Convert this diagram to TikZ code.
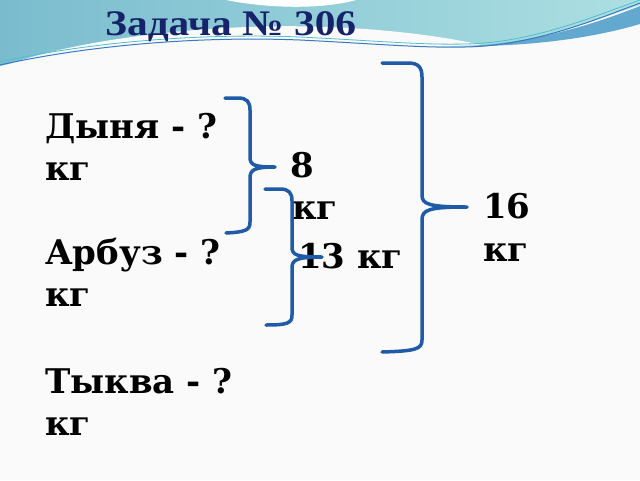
\documentclass[tikz,border=0pt]{standalone}
\usepackage{fontspec}
\newfontfamily\bodyfont{DejaVu Serif}
\newfontfamily\titlefont{Liberation Serif}
\definecolor{navy}{HTML}{16226A}
\definecolor{bracecol}{HTML}{1F5BA6}
\definecolor{tealL}{HTML}{7ABCCE}
\definecolor{tealR}{HTML}{ACDFE2}
\definecolor{bgcol}{HTML}{FAFAFA}
\definecolor{lineblue}{HTML}{3A78C4}
\definecolor{lineteal}{HTML}{4CC0CC}
\definecolor{stripe}{HTML}{62A8CF}
\begin{document}
\begin{tikzpicture}[x=1pt,y=-1pt,
  txt/.style={anchor=base west,inner sep=0pt,font=\bodyfont\bfseries\fontsize{34}{40}\selectfont,text=black},
  brace/.style={draw=bracecol,line width=3.5pt,line cap=round,line join=round}]
\useasboundingbox (0,0) rectangle (640,480);
\fill[bgcol] (0,0) rectangle (640,480);
% top band
\shade[left color=tealL,right color=tealR]
  (0,0) -- (640,0) -- (640,5) .. controls (560,32) and (520,47) .. (465,47)
  .. controls (380,46) and (300,36) .. (200,40) .. controls (110,44) and (40,56) .. (0,66) -- cycle;
% white sliver at top
\fill[white] (226,0) .. controls (265,8) and (320,10) .. (356,0) -- cycle;
% white swoosh
\fill[bgcol] (10,64) .. controls (70,42) and (200,22) .. (330,27)
  .. controls (400,30) and (450,38) .. (482,45)
  .. controls (440,47) and (380,46) .. (300,40) .. controls (200,36) and (80,50) .. (10,64) -- cycle;
% right darker stripe
\fill[stripe] (470,46) .. controls (540,42) and (600,22) .. (640,6) -- (640,24)
  .. controls (600,36) and (540,46) .. (470,46) -- cycle;
% thin lines
\draw[lineblue,line width=1pt] (0,65) .. controls (90,45) and (200,36) .. (300,40)
  .. controls (380,44) and (420,48) .. (465,47) .. controls (530,46) and (590,22) .. (640,3);
\draw[lineteal,line width=0.8pt] (0,62) .. controls (90,42) and (200,33) .. (300,37)
  .. controls (380,41) and (420,45) .. (465,44) .. controls (530,43) and (590,18) .. (640,0);
% title
\node[anchor=base west,inner sep=0pt,text=navy,font=\titlefont\bfseries\fontsize{36}{40}\selectfont] (title) at (105,35) {\scalebox{1.15}[1]{Задача № 306}};
% texts
\node[txt] (t1) at (45,138) {Дыня - ?};
\node[txt] (t1u) at (45,180) {кг};
\node[txt] (t2) at (45,264) {Арбуз - ?};
\node[txt] (t2u) at (45,306) {кг};
\node[txt] (t3) at (45,393) {Тыква - ?};
\node[txt] (t3u) at (45,435) {кг};
\node[txt] (s8) at (290,177) {8};
\node[txt] (s8u) at (292,219) {кг};
\node[txt] (s13) at (298,268) {13 кг};
\node[txt] (s16) at (483,218) {16};
\node[txt] (s16u) at (483,261) {кг};
% braces
\draw[brace] (225,98) -- (238,98) .. controls (247,98) and (250,102) .. (250,110)
  -- (250,157) .. controls (250,165) and (254,167) .. (275,167)
  .. controls (254,167) and (250,170) .. (250,178)
  -- (250,222) .. controls (250,230) and (246,232) .. (226,233);
\draw[brace] (265,189) -- (280,189) .. controls (289,189) and (292,193) .. (292,201)
  -- (292,247) .. controls (292,255) and (296,257) .. (322,257)
  .. controls (296,257) and (292,260) .. (292,268)
  -- (292,315) .. controls (292,323) and (288,325) .. (266,325);
\draw[brace] (382,63) -- (408,63) .. controls (418,63) and (422,67) .. (422,77)
  -- (422,195) .. controls (422,204) and (428,207) .. (467,207)
  .. controls (428,207) and (422,210) .. (422,220)
  -- (422,340) .. controls (422,349) and (416,351) .. (382,352);
\end{tikzpicture}
\end{document}
